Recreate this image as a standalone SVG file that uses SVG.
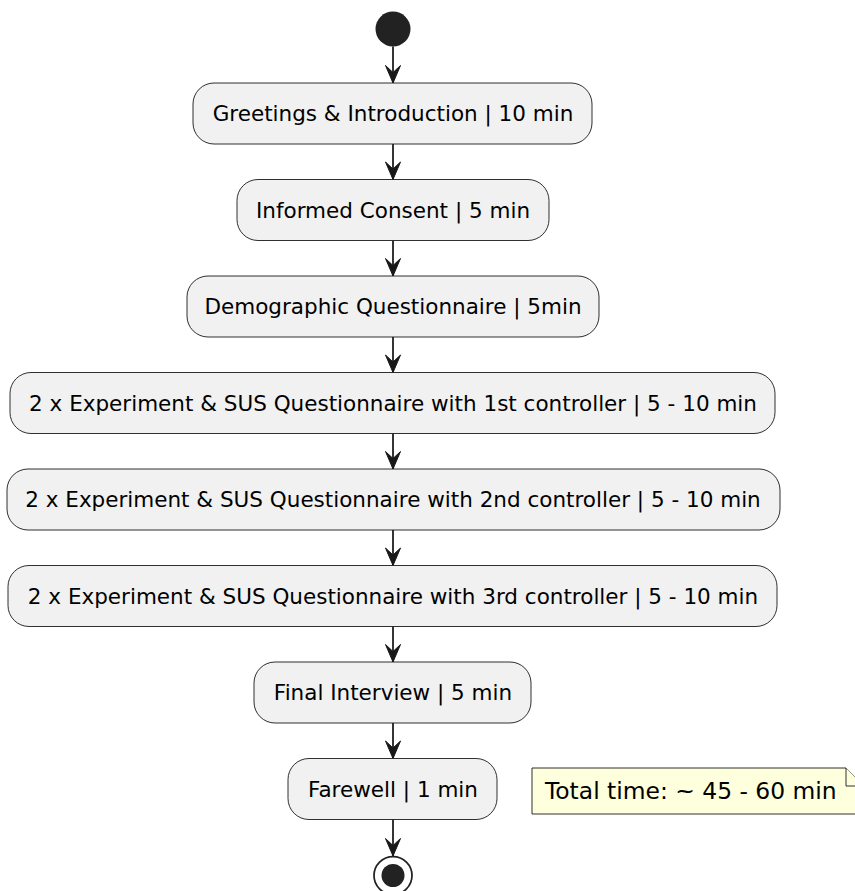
<svg xmlns="http://www.w3.org/2000/svg" width="855" height="891" viewBox="0 0 855 891">
<style>
.box{fill:#F1F1F1;stroke:#181818;stroke-width:0.9}
.lbl{font-family:"DejaVu Sans",sans-serif;font-size:21.5px;fill:#000;text-anchor:middle}
.note{fill:#FEFFDD;stroke:#181818;stroke-width:0.9}
.ntxt{font-family:"DejaVu Sans",sans-serif;font-size:23.4px;fill:#000}
.edge{stroke:#181818;stroke-width:1.75;fill:none}
.head{fill:#181818;stroke:#181818;stroke-width:1}
</style>
<defs>
<marker id="arr" markerUnits="userSpaceOnUse" markerWidth="20" markerHeight="20" viewBox="-8 -19 16 20" refX="0" refY="0" orient="0">
<polygon class="head" points="0,0 -7.5,-17.5 0,-10.5 7.5,-17.5"/>
</marker>
</defs>
<rect width="855" height="891" fill="#FFFFFF"/>
<g id="connectors">
<line class="edge" x1="393" y1="46.5" x2="393" y2="83" marker-end="url(#arr)"/>
<line class="edge" x1="393" y1="144" x2="393" y2="179.5" marker-end="url(#arr)"/>
<line class="edge" x1="393" y1="240.5" x2="393" y2="276" marker-end="url(#arr)"/>
<line class="edge" x1="393" y1="337" x2="393" y2="372.5" marker-end="url(#arr)"/>
<line class="edge" x1="393" y1="433.5" x2="393" y2="469" marker-end="url(#arr)"/>
<line class="edge" x1="393" y1="530" x2="393" y2="565.5" marker-end="url(#arr)"/>
<line class="edge" x1="393" y1="626.5" x2="393" y2="662" marker-end="url(#arr)"/>
<line class="edge" x1="393" y1="723" x2="393" y2="758.5" marker-end="url(#arr)"/>
<line class="edge" x1="393" y1="819.5" x2="393" y2="856" marker-end="url(#arr)"/>
</g>
<g id="start"><circle cx="393" cy="29" r="17.5" fill="#222222"/></g>
<g id="n1"><rect class="box" x="193" y="83" width="399" height="61" rx="21"/><text class="lbl" x="393" y="121.3">Greetings &amp; Introduction | 10 min</text></g>
<g id="n2"><rect class="box" x="237" y="179.5" width="312" height="61" rx="21"/><text class="lbl" x="393" y="217.8">Informed Consent | 5 min</text></g>
<g id="n3"><rect class="box" x="187" y="276" width="412" height="61" rx="21"/><text class="lbl" x="393" y="314.3">Demographic Questionnaire | 5min</text></g>
<g id="n4"><rect class="box" x="10" y="372.5" width="765" height="61" rx="21"/><text class="lbl" x="393" y="410.8">2 x Experiment &amp; SUS Questionnaire with 1st controller | 5 - 10 min</text></g>
<g id="n5"><rect class="box" x="7" y="469" width="773" height="61" rx="21"/><text class="lbl" x="393" y="507.3">2 x Experiment &amp; SUS Questionnaire with 2nd controller | 5 - 10 min</text></g>
<g id="n6"><rect class="box" x="8" y="565.5" width="769" height="61" rx="21"/><text class="lbl" x="393" y="603.8">2 x Experiment &amp; SUS Questionnaire with 3rd controller | 5 - 10 min</text></g>
<g id="n7"><rect class="box" x="254" y="662" width="277" height="61" rx="21"/><text class="lbl" x="393" y="700.3">Final Interview | 5 min</text></g>
<g id="n8"><rect class="box" x="288" y="758.5" width="209" height="61" rx="21"/><text class="lbl" x="393" y="796.8">Farewell | 1 min</text></g>
<g id="note">
<polygon class="note" points="532,768 846,768 864,786 864,814 532,814"/>
<polyline class="note" points="846,768 846,786 864,786"/>
<text class="ntxt" x="545" y="798.5">Total time: ~ 45 - 60 min</text>
</g>
<g id="end">
<circle cx="393" cy="875.5" r="19" fill="none" stroke="#222222" stroke-width="1.75"/>
<circle cx="393" cy="875.5" r="11.5" fill="#222222"/>
</g>
</svg>
